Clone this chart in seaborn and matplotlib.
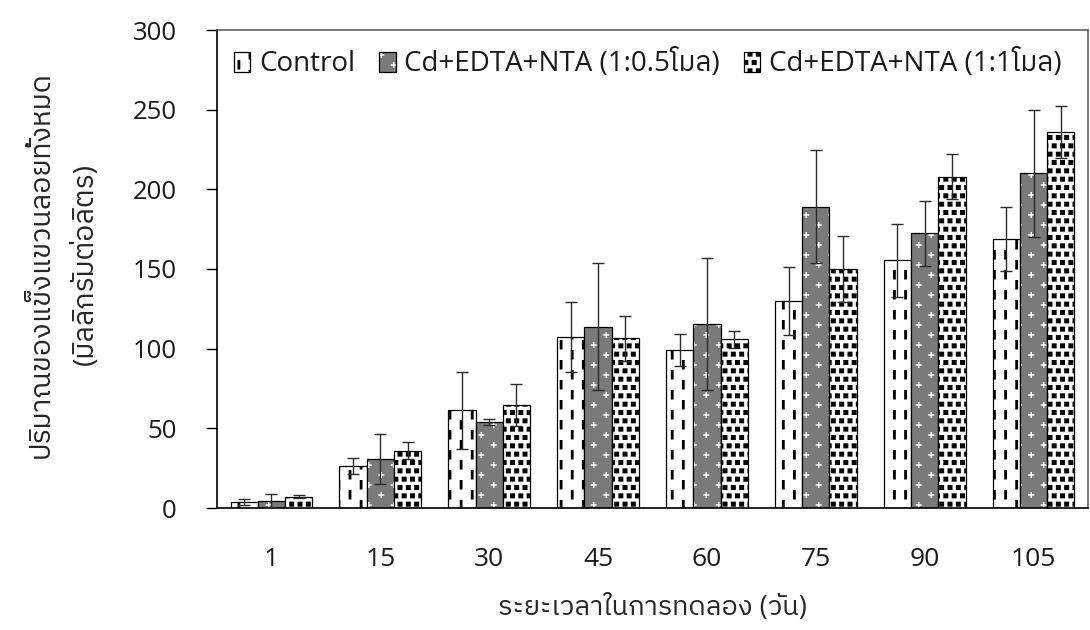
import numpy as np
import pandas as pd
import matplotlib
matplotlib.use("Agg")
import matplotlib.pyplot as plt
import matplotlib.colors as mcolors
import seaborn as sns
from matplotlib import hatch as mhatch
from matplotlib import font_manager
from matplotlib.ft2font import FT2Font
from matplotlib.path import Path

# ---------------------------------------------------------------- data
days = ["1", "15", "30", "45", "60", "75", "90", "105"]
series = ["Control", "Cd+EDTA+NTA (1:0.5โมล)", "Cd+EDTA+NTA (1:1โมล)"]

control_mean = [3.6, 26.6, 61.3, 107.3, 99.2, 129.9, 155.5, 168.7]
control_sd = [2.0, 5.0, 24.0, 22.0, 10.0, 21.6, 22.8, 20.0]
half_mean = [4.6, 30.6, 53.8, 113.8, 115.3, 189.1, 172.4, 210.1]
half_sd = [4.2, 15.7, 2.0, 40.0, 41.4, 35.6, 20.5, 40.0]
one_mean = [7.1, 36.0, 64.7, 106.5, 105.9, 150.0, 208.0, 236.0]
one_sd = [1.0, 5.2, 13.0, 14.0, 5.4, 21.0, 14.0, 16.5]

y_ticks = [0, 50, 100, 150, 200, 250, 300]
x_title = "ระยะเวลาในการทดลอง (วัน)"
y_title = "ปริมาณของแข็งแขวนลอยทั้งหมด\n(มิลลิกรัมต่อลิตร)"

means = [control_mean, half_mean, one_mean]
sds = [control_sd, half_sd, one_sd]

# ---------------------------------------------------------------- fonts
def family_with(char):
    """Return the first installed family that has a glyph for `char`."""
    fonts = sorted(font_manager.fontManager.ttflist,
                   key=lambda f: (0 if "Thai" in f.name else 1, f.name))
    for f in fonts:
        try:
            if ord(char) in FT2Font(f.fname).get_charmap():
                return f.name
        except Exception:
            continue
    return None


# ---------------------------------------------------------------- fill patterns
# Pattern tiles are drawn in a unit square that Agg maps to `dpi` pixels.
def rect(x0, y0, w, h):
    return [(x0, y0), (x0 + w, y0), (x0 + w, y0 + h), (x0, y0 + h)]


def plus(cx, cy, arm, thick):
    a, t = arm / 2, thick / 2
    return [(cx - t, cy - a), (cx + t, cy - a), (cx + t, cy - t), (cx + a, cy - t),
            (cx + a, cy + t), (cx + t, cy + t), (cx + t, cy + a), (cx - t, cy + a),
            (cx - t, cy + t), (cx - a, cy + t), (cx - a, cy - t), (cx - t, cy - t)]


def wrapped(poly):
    """Copies of a polygon shifted by whole tiles so the tile repeats seamlessly."""
    xs = [p[0] for p in poly]
    ys = [p[1] for p in poly]
    out = []
    for dx in (-1, 0, 1):
        for dy in (-1, 0, 1):
            if max(xs) + dx > 0 and min(xs) + dx < 1 and max(ys) + dy > 0 and min(ys) + dy < 1:
                out.append([(x + dx, y + dy) for x, y in poly])
    return out


dash_tile = []
for c in range(9):
    phase = 0.1 if c % 2 else 0.0
    for r in range(5):
        dash_tile += wrapped(rect((c + 0.5) / 9 - 0.014, r * 0.2 + phase + 0.005, 0.028, 0.095))

square_tile = []
for r in range(12):
    for c in range(12):
        cx = (c + 0.5 + 0.5 * (r % 2)) / 12
        cy = (r + 0.5) / 12
        square_tile += wrapped(rect(cx - 0.025, cy - 0.025, 0.05, 0.05))

plus_tile = []
for r in range(10):
    for c in range(8):
        if (r + c) % 2 == 0:
            plus_tile += wrapped(plus((c + 0.5) / 8, (r + 0.5) / 10, 0.06, 0.015))

TILES = {"|": dash_tile, ".": square_tile, "+": plus_tile}


class TileHatch(mhatch.HatchPatternBase):
    def __init__(self, hatch, density):
        self.polys = []
        for ch, polys in TILES.items():
            if ch in hatch:
                self.polys.extend(polys)
        self.num_vertices = sum(len(p) + 1 for p in self.polys)

    def set_vertices_and_codes(self, vertices, codes):
        i = 0
        for p in self.polys:
            n = len(p)
            vertices[i:i + n] = p
            vertices[i + n] = p[0]
            codes[i] = Path.MOVETO
            codes[i + 1:i + n] = Path.LINETO
            codes[i + n] = Path.CLOSEPOLY
            i += n + 1


mhatch._hatch_types[:] = [TileHatch]

# ---------------------------------------------------------------- style
sns.set_theme(style="white")
thai = family_with("ม")
families = ["Open Sans"] + ([thai] if thai else []) + ["DejaVu Sans"]
plt.rcParams["font.family"] = families
plt.rcParams["hatch.linewidth"] = 0.01
plt.rcParams["text.color"] = "#1a1a1a"

face_colors = ["white", "#7a7a7a", "white"]
hatches = ["|", "+", "."]
hatch_colors = ["black", "white", "black"]

df = pd.DataFrame({
    "day": days * len(series),
    "series": np.repeat(series, len(days)),
    "value": control_mean + half_mean + one_mean,
})

fig = plt.figure(figsize=(10.9, 6.3), dpi=100)
ax = fig.add_axes([217 / 1090, 1 - 508 / 630, (1088 - 217) / 1090, (508 - 30) / 630])

sns.barplot(data=df, x="day", y="value", hue="series", order=days, hue_order=series,
            palette=face_colors, saturation=1, width=0.75, errorbar=None,
            edgecolor="black", linewidth=0.9, legend=False, ax=ax)

bar_sets = list(ax.containers[:len(series)])
for cont, h, hc, mean, sd in zip(bar_sets, hatches, hatch_colors, means, sds):
    for bar in cont:
        bar.set_hatch(h)
        bar._hatch_color = mcolors.to_rgba(hc)
    xs = [b.get_x() + b.get_width() / 2 for b in cont]
    ax.errorbar(xs, mean, yerr=sd, fmt="none", ecolor="#2b2b2b",
                elinewidth=1.0, capsize=4.5, capthick=1.0, zorder=5)

ax.set_xlim(-0.5, len(days) - 0.5)
ax.set_ylim(0, 300)
ax.set_yticks(y_ticks)
ax.tick_params(axis="y", direction="out", length=8, width=1.0, pad=21,
               labelsize=18.5, colors="black", labelcolor="#1a1a1a", left=True)
ax.tick_params(axis="x", length=0, pad=28, labelsize=19, labelcolor="#1a1a1a")

for side in ["left", "bottom"]:
    ax.spines[side].set_color("black")
    ax.spines[side].set_linewidth(1.2)
for side in ["top", "right"]:
    ax.spines[side].set_color("#555555")
    ax.spines[side].set_linewidth(1.1)
    ax.spines[side].set_visible(True)

ax.set_xlabel(x_title, fontsize=19.5, va="center")
ax.xaxis.set_label_coords(0.5, -0.209)
ax.set_ylabel(y_title, fontsize=20.5, va="center", ha="center", linespacing=1.75)
ax.yaxis.set_label_coords(-0.176, 0.51)

ax.legend(handles=bar_sets, labels=series, loc="center left",
          bbox_to_anchor=(0.019, 0.929), ncol=3, frameon=False, fontsize=20,
          borderpad=0, handlelength=0.6, handleheight=0.75, handletextpad=0.32,
          columnspacing=0.85, borderaxespad=0)

fig.savefig("out.png", dpi=100)
